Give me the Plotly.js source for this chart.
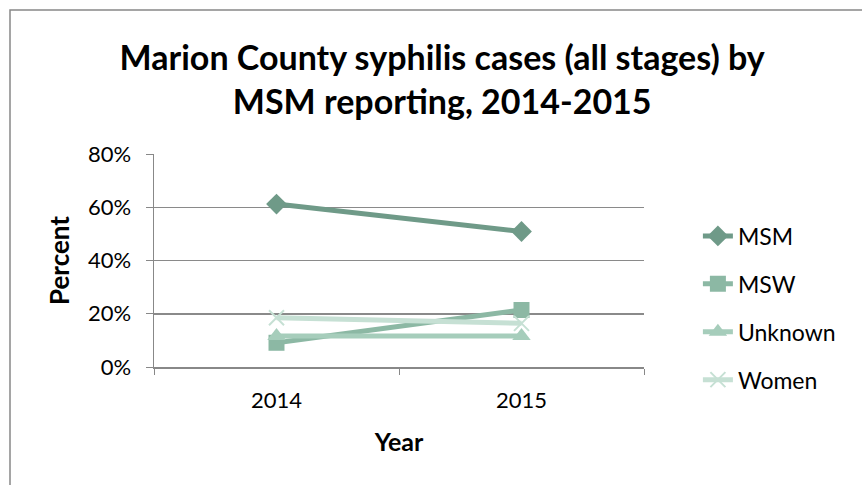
<!DOCTYPE html>
<html>
<head>
<meta charset="utf-8">
<script src="https://cdn.plot.ly/plotly-3.0.1.min.js"></script>
<style>
html,body{margin:0;padding:0;background:#fff;}
#chart{width:862px;height:485px;}
</style>
</head>
<body>
<div id="chart"></div>
<script>
const years = ["2014", "2015"];
const msm = [0.612, 0.509];
const msw = [0.091, 0.214];
const unknown = [0.116, 0.116];
const women = [0.185, 0.164];
const seriesNames = ["MSM", "MSW", "Unknown", "Women"];
const yTicks = [0, 0.2, 0.4, 0.6, 0.8];

const colors = ["#6f9a88", "#8cb8a4", "#a6cdbb", "#c6e0d4"];
const symbols = ["diamond", "square", "triangle-up", "x-thin-open"];
const values = [msm, msw, unknown, women];

const traces = seriesNames.map((n, i) => ({
  type: "scatter",
  mode: "lines+markers",
  name: n,
  x: years,
  y: values[i],
  legendgroup: n,
  line: {color: colors[i], width: 5},
  marker: {symbol: symbols[i], size: i === 3 ? 15 : 16, color: colors[i],
           line: {color: colors[i], width: i === 3 ? 2 : 0}}
}));

const font = "Lato, 'Open Sans', sans-serif";
const layout = {
  width: 862, height: 485,
  margin: {l: 154, r: 218, t: 154, b: 118},
  paper_bgcolor: "#fff", plot_bgcolor: "#fff",
  font: {family: font, size: 22, color: "#000"},
  title: {text: "<b>Marion County syphilis cases (all stages) by<br>MSM reporting, 2014-2015</b>",
          font: {family: font, size: 34, color: "#000"},
          x: 0.513, xanchor: "center", xref: "container",
          y: 1 - 70/485, yanchor: "middle", yref: "container"},
  xaxis: {type: "category", tickson: "boundaries", ticks: "outside", ticklen: 6,
          tickcolor: "#888", linecolor: "#888", linewidth: 1.5, showline: true,
          showgrid: false, zeroline: false, range: [-0.5, 1.5],
          tickfont: {size: 22}, automargin: false, ticklabelstandoff: 13,
          title: {text: "<b>Year</b>", font: {size: 25}, standoff: 21}},
  yaxis: {range: [0, 0.8], tickvals: yTicks, tickformat: ".0%", ticks: "outside", ticklen: 7,
          tickcolor: "#888", linecolor: "#888", linewidth: 1.5, showline: true,
          gridcolor: "#8a8a8a", gridwidth: 1.5, zeroline: false,
          tickfont: {size: 22}, automargin: false, ticklabelstandoff: 10,
          title: {text: "<b>Percent</b>", font: {size: 26}, standoff: 11}},
  legend: {x: 1.11, xanchor: "left", y: 0.277, yanchor: "middle",
           font: {size: 23}, traceorder: "grouped", tracegroupgap: 15,
           bgcolor: "rgba(0,0,0,0)"},
  shapes: [{type: "rect", xref: "paper", yref: "paper",
            x0: -144/490, x1: 1.6, y0: -0.8, y1: 1 + 144/213,
            line: {color: "#888", width: 1.5}, fillcolor: "rgba(0,0,0,0)", layer: "below"}]
};

Plotly.newPlot("chart", traces, layout, {displayModeBar: false, staticPlot: true});
</script>
</body>
</html>
